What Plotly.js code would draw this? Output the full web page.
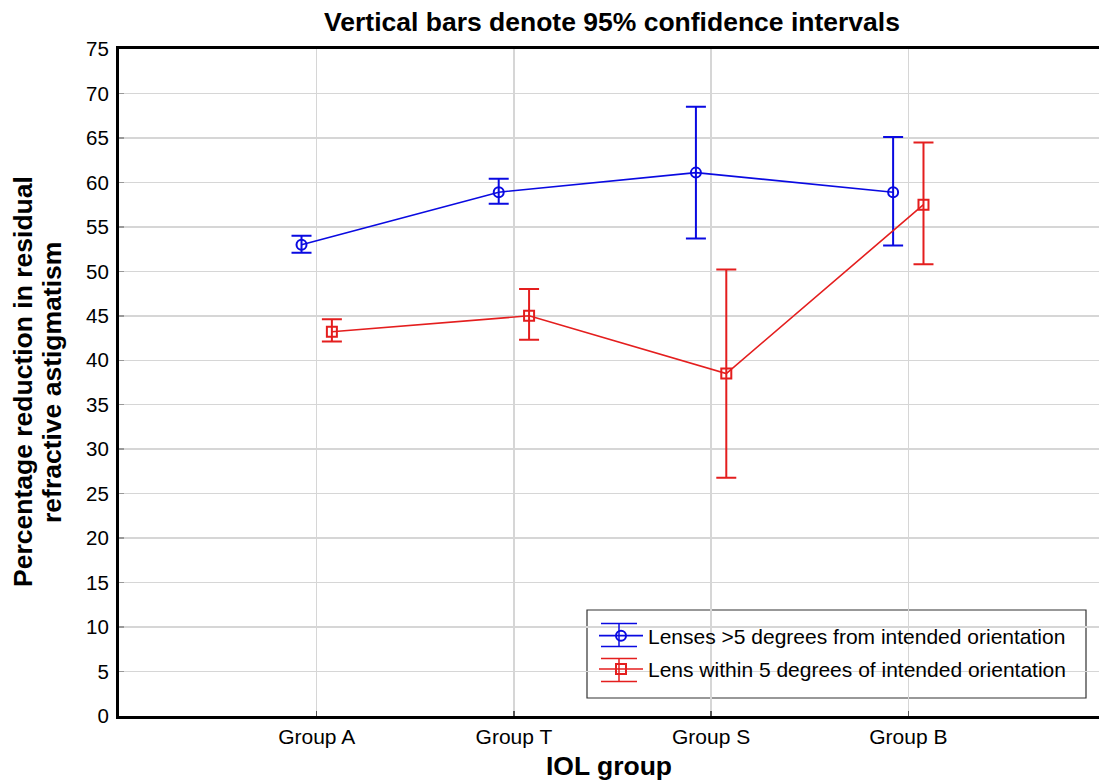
<!DOCTYPE html>
<html>
<head>
<meta charset="utf-8">
<script src="https://cdn.plot.ly/plotly-3.0.1.min.js"></script>
<style>html,body{margin:0;padding:0;background:#fff;overflow:hidden;}#chart{width:1099px;height:781px;}</style>
</head>
<body>
<div id="chart"></div>
<script>
// Data
const groups = ["Group A", "Group T", "Group S", "Group B"];

const misalignedMean  = [53.0, 58.9, 61.1, 58.9];
const misalignedUpper = [54.0, 60.4, 68.5, 65.1];
const misalignedLower = [52.1, 57.6, 53.7, 52.9];

const alignedMean  = [43.2, 45.0, 38.5, 57.5];
const alignedUpper = [44.6, 48.0, 50.2, 64.5];
const alignedLower = [42.1, 42.3, 26.8, 50.8];

const seriesNames = [
  "Lenses >5 degrees from intended orientation",
  "Lens within 5 degrees of intended orientation"
];

const yTitleLines = ["Percentage reduction in residual", "refractive astigmatism"];

const FONT = "Liberation Sans, Arial, Helvetica, sans-serif";
const BLUE = "rgb(10,10,225)";
const RED = "rgb(228,30,30)";
const OFFSET = 0.077;

const W = 1099, H = 781;
const M = {l: 119, r: 0, t: 49, b: 65};
const PW = W - M.l - M.r, PH = H - M.t - M.b;
const px2x = p => (p - M.l) / PW;
const px2y = p => (H - M.b - p) / PH;

const idx = groups.map((g, i) => i);

function makeTrace(name, mean, upper, lower, shift, color, symbol, group) {
  return {
    type: "scatter",
    mode: "lines+markers",
    name: name,
    legendgroup: group,
    x: idx.map(i => i + shift),
    y: mean,
    line: {color: color, width: 1.6},
    marker: {symbol: symbol, size: 10, color: color, line: {color: color, width: 2}},
    error_y: {
      type: "data",
      symmetric: false,
      array: upper.map((u, i) => u - mean[i]),
      arrayminus: lower.map((l, i) => mean[i] - l),
      color: color,
      thickness: 2,
      width: 10
    }
  };
}

const traces = [
  makeTrace(seriesNames[0], misalignedMean, misalignedUpper, misalignedLower, -OFFSET, BLUE, "circle-open", "g1"),
  makeTrace(seriesNames[1], alignedMean, alignedUpper, alignedLower, OFFSET, RED, "square-open", "g2")
];

// legend glyph decorations (error-bar style caps), in pixel space converted to paper
function glyph(cy, color) {
  const s = {type: "line", xref: "paper", yref: "paper", layer: "above", line: {color: color, width: 1.5}};
  return [
    Object.assign({}, s, {x0: px2x(601), x1: px2x(637), y0: px2y(cy - 11.5), y1: px2y(cy - 11.5)}),
    Object.assign({}, s, {x0: px2x(601), x1: px2x(637), y0: px2y(cy + 11.5), y1: px2y(cy + 11.5)}),
    Object.assign({}, s, {x0: px2x(619), x1: px2x(619), y0: px2y(cy - 11.5), y1: px2y(cy + 11.5)})
  ];
}

const layout = {
  width: W,
  height: H,
  margin: M,
  paper_bgcolor: "#ffffff",
  plot_bgcolor: "#ffffff",
  font: {family: FONT, color: "#000"},
  title: {
    text: "<b>Vertical bars denote 95% confidence intervals</b>",
    font: {family: FONT, size: 26.5, color: "#000"},
    x: 612 / W, xanchor: "center",
    y: 1 - 22 / H, yanchor: "middle"
  },
  xaxis: {
    range: [-1.0025, 3.967],
    tickvals: idx,
    ticktext: groups,
    tickfont: {family: FONT, size: 21, color: "#000"},
    ticks: "inside",
    ticklen: 5,
    tickwidth: 1.5,
    tickcolor: "#555",
    showgrid: true,
    gridcolor: "#d6d6d6",
    gridwidth: 1.5,
    zeroline: false,
    showline: true,
    linecolor: "#000",
    linewidth: 3,
    mirror: true,
    ticklabelstandoff: 0,
    title: {text: "<b>IOL group</b>", font: {family: FONT, size: 26.5, color: "#000"}, standoff: 10}
  },
  yaxis: {
    range: [0, 75],
    dtick: 5,
    tick0: 0,
    tickfont: {family: FONT, size: 20.5, color: "#000"},
    ticks: "inside",
    ticklen: 5,
    tickwidth: 1.5,
    tickcolor: "#999",
    showgrid: true,
    gridcolor: "#d6d6d6",
    gridwidth: 1.5,
    zeroline: false,
    showline: true,
    linecolor: "#000",
    linewidth: 3,
    ticklabelstandoff: 3
  },
  annotations: [
    {text: "<b>" + yTitleLines[0] + "</b>", xref: "paper", yref: "paper",
     x: px2x(23), y: px2y(382), xanchor: "center", yanchor: "middle", textangle: -90,
     showarrow: false, font: {family: FONT, size: 26.5, color: "#000"}},
    {text: "<b>" + yTitleLines[1] + "</b>", xref: "paper", yref: "paper",
     x: px2x(52), y: px2y(383), xanchor: "center", yanchor: "middle", textangle: -90,
     showarrow: false, font: {family: FONT, size: 26.5, color: "#000"}}
  ],
  shapes: [
    {type: "rect", xref: "paper", yref: "paper", layer: "below",
     x0: px2x(587), x1: px2x(1086), y0: px2y(698), y1: px2y(610),
     fillcolor: "#ffffff", line: {color: "#333", width: 1.2}}
  ].concat(glyph(635, BLUE), glyph(670, RED)),
  showlegend: true,
  legend: {
    x: px2x(594), xanchor: "left",
    y: px2y(652.5), yanchor: "middle",
    bgcolor: "rgba(0,0,0,0)",
    borderwidth: 0,
    font: {family: FONT, size: 21, color: "#000"},
    tracegroupgap: 3,
    traceorder: "grouped",
    itemwidth: 44
  }
};

Plotly.newPlot("chart", traces, layout, {displayModeBar: false, staticPlot: true});
</script>
</body>
</html>
